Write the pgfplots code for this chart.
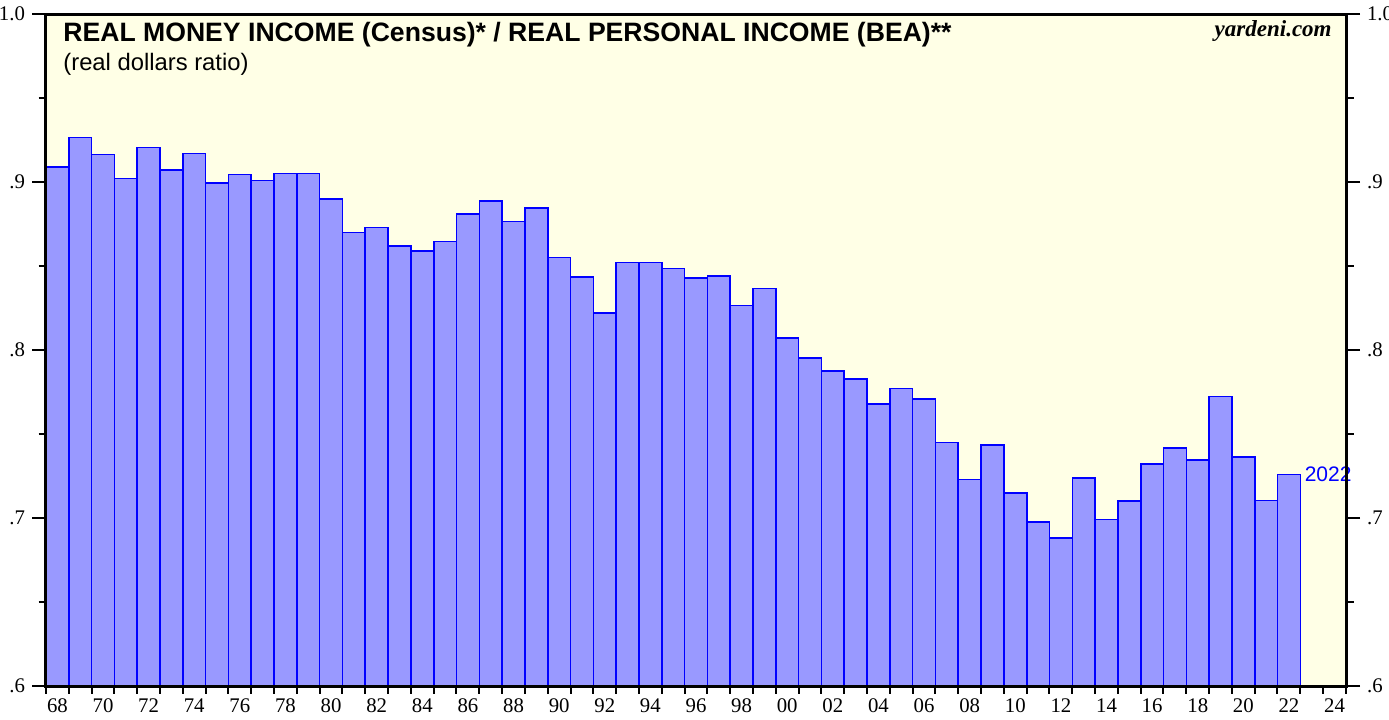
\documentclass[border=0pt]{standalone}
\usepackage{fontspec}
\setmainfont{Liberation Serif}
\newfontfamily\arial{Liberation Sans}
\usepackage{pgfplots}
\pgfplotsset{compat=1.18}
\definecolor{bgyellow}{RGB}{255,255,230}
\definecolor{barfill}{RGB}{153,153,255}
\definecolor{baredge}{RGB}{0,0,255}

\pgfplotstableread{
year val
1968 0.909
1969 0.9266
1970 0.9163
1971 0.902
1972 0.9206
1973 0.907
1974 0.917
1975 0.8994
1976 0.9044
1977 0.901
1978 0.905
1979 0.905
1980 0.890
1981 0.870
1982 0.8728
1983 0.862
1984 0.859
1985 0.8645
1986 0.881
1987 0.8887
1988 0.8766
1989 0.8845
1990 0.855
1991 0.8436
1992 0.822
1993 0.852
1994 0.852
1995 0.8484
1996 0.8429
1997 0.844
1998 0.8266
1999 0.8365
2000 0.807
2001 0.7954
2002 0.7875
2003 0.7826
2004 0.768
2005 0.777
2006 0.771
2007 0.745
2008 0.723
2009 0.7435
2010 0.715
2011 0.6976
2012 0.688
2013 0.7238
2014 0.699
2015 0.710
2016 0.7323
2017 0.7418
2018 0.7347
2019 0.7724
2020 0.7363
2021 0.7105
2022 0.726
2023 0.726
}\datatable

\pgfplotsset{
  commonaxis/.style={
    at={(0,0)}, anchor=south west,
    scale only axis, width=650pt, height=336pt,
    xmin=1968, xmax=2025, ymin=0.6, ymax=1.0,
    tick align=outside,
    major tick length=7pt, minor tick length=3.75pt,
    tick style={black, line width=1pt},
    ytick={0.6,0.7,0.8,0.9,1.0},
    yticklabels={.6,.7,.8,.9,1.0},
    minor ytick={0.65,0.75,0.85,0.95},
    yticklabel style={font=\fontsize{10.4}{12}\selectfont},
  }
}

\begin{document}
\begin{tikzpicture}
\path[use as bounding box] (-23pt,-16.5pt) rectangle (671.5pt,343pt);
\begin{axis}[
  commonaxis,
  axis background/.style={fill=bgyellow},
  axis line style={line width=1.5pt},
  clip=false,
  xtick={1968.5,1970.5,...,2024.5},
  xticklabels={68,70,72,74,76,78,80,82,84,86,88,90,92,94,96,98,00,02,04,06,08,10,12,14,16,18,20,22,24},
  major x tick style={draw=none},
  minor xtick={1968,...,2025},
  xtick pos=left,
  ytick pos=both,
  yticklabel pos=left,
  xticklabel style={font=\fontsize{10.4}{12}\selectfont, yshift=4pt},
]
\begin{scope}
\clip (rel axis cs:0,0) rectangle (rel axis cs:1,1);
\addplot[ybar interval, fill=barfill, draw=baredge, line width=0.8pt] table[x=year,y=val]{\datatable};
\end{scope}
\draw[line width=1.5pt] (rel axis cs:0,0) rectangle (rel axis cs:1,1);
\node[anchor=west, text=baredge, font=\arial\fontsize{10.5}{12}\selectfont, inner sep=0pt] at (axis cs:2023,0.726) [xshift=2pt] {2022};
\node[anchor=base west, font=\arial\bfseries\fontsize{13.3}{15}\selectfont, inner sep=0pt] at (rel axis cs:0,1) [xshift=8.5pt, yshift=-13.5pt] {REAL MONEY INCOME (Census)* / REAL PERSONAL INCOME (BEA)**};
\node[anchor=base west, font=\arial\fontsize{11.9}{14}\selectfont, inner sep=0pt] at (rel axis cs:0,1) [xshift=8.5pt, yshift=-28pt] {(real dollars ratio)};
\node[anchor=base east, font=\bfseries\itshape\fontsize{11.5}{13}\selectfont, inner sep=0pt] at (rel axis cs:1,1) [xshift=-7pt, yshift=-11.25pt] {yardeni.com};
\end{axis}
\begin{axis}[
  commonaxis,
  hide x axis,
  axis y line*=right,
  axis line style={line width=1.5pt},
  ytick pos=right,
  yticklabel pos=right,
]
\end{axis}
\end{tikzpicture}
\end{document}
